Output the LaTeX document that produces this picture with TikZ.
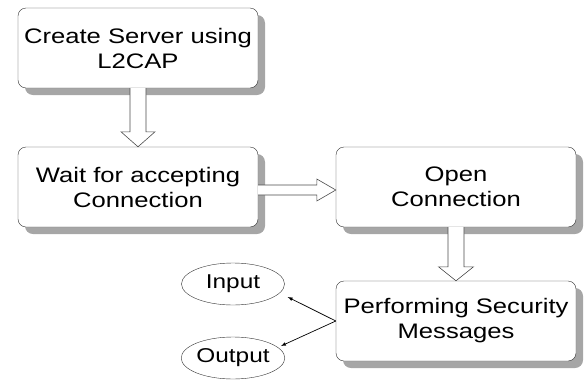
\documentclass[tikz,border=0pt]{standalone}
\usepackage{fontspec}
\setmainfont{Liberation Sans}[FakeStretch=1.22]
\usepackage{tikz}
\usetikzlibrary{calc,positioning,arrows,shapes.geometric,shadows}

\begin{document}
\begin{tikzpicture}[x=1pt,y=-1pt,>=latex,
  box/.style={draw=black!80, fill=white, rounded corners=8pt, minimum width=240pt, minimum height=80pt,
    align=center, font=\fontsize{21}{25}\selectfont,
    drop shadow={shadow xshift=7pt, shadow yshift=-7pt, fill=black!35, opacity=1}},
  io/.style={draw=black!80, ellipse, minimum width=103pt, minimum height=42pt, inner sep=0pt,
    font=\fontsize{20}{24}\selectfont},
  hollow/.style={draw=black!70, fill=white, line width=0.6pt}]
  \useasboundingbox (0,0) rectangle (587,381);

  \node[box] (create) at (138,48) {Create Server using\\L2CAP};
  \node[box, below of=create, node distance=139pt] (wait) {Wait for accepting\\Connection};
  \node[box, right of=wait, node distance=318pt] (open) {Open\\Connection};
  \node[box, below of=open, node distance=134pt] (perf) {Performing Security\\Messages};

  \node[io] (input) at (233,284) {Input};
  \node[io] (output) at (233,358) {Output};

  %%%% block arrows between the steps

  \draw[hollow] ($(create.south)+(-8,0)$) -- ($(wait.north)+(-8,-15)$) -- ($(wait.north)+(-17,-15)$)
    -- (wait.north) -- ($(wait.north)+(17,-15)$) -- ($(wait.north)+(8,-15)$) -- ($(create.south)+(8,0)$);

  \draw[hollow] ($(wait.east)+(0,-2)$) -- ($(open.west)+(-19,-2)$) -- ($(open.west)+(-19,-8)$)
    -- ($(open.west)+(0,3)$) -- ($(open.west)+(-19,14)$) -- ($(open.west)+(-19,8)$) -- ($(wait.east)+(0,8)$);

  \draw[hollow] ($(open.south)+(-8,0)$) -- ($(perf.north)+(-8,-14)$) -- ($(perf.north)+(-17.5,-14)$)
    -- (perf.north) -- ($(perf.north)+(17.5,-14)$) -- ($(perf.north)+(8,-14)$) -- ($(open.south)+(8,0)$);

  %%%% messages

  \coordinate (in_tip) at ($(input.east)+(3,13)$);
  \coordinate (out_tip) at ($(output.east)+(-4,-12)$);
  \draw[->, line width=0.7pt] (perf.west) -- (in_tip);
  \draw[->, line width=0.7pt] (perf.west) -- (out_tip);

\end{tikzpicture}
\end{document}
